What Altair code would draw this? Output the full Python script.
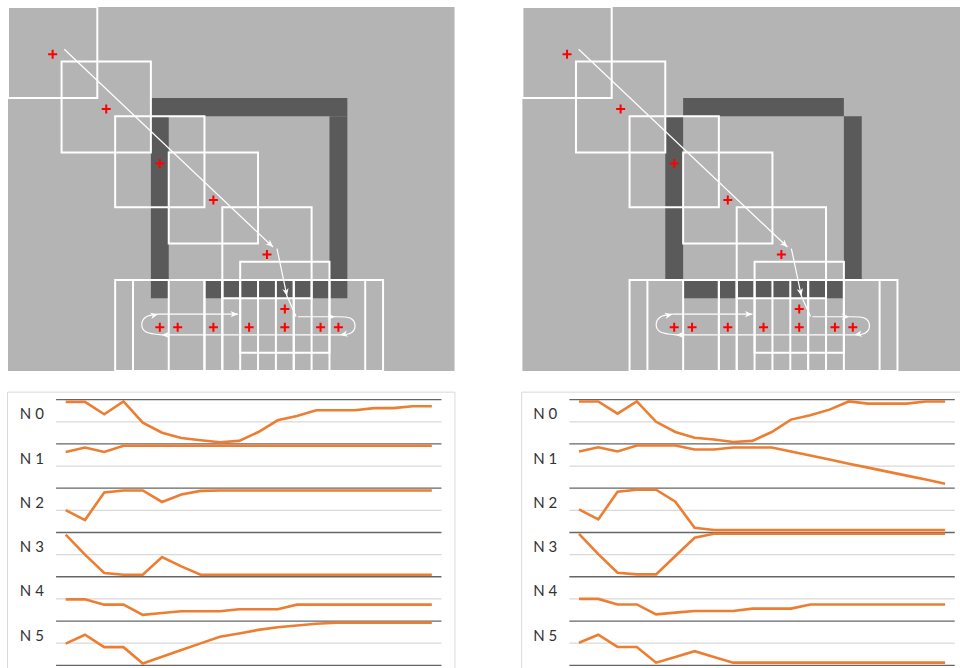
import math
import altair as alt
import pandas as pd

# ---------------- sliding-window diagrams (units: grid cells) ----------------
WIN = 5  # window side, in cells
win_x = [0, 3, 6, 9, 12, 13, 6, 7, 9, 11, 12, 13, 15, 16]
win_y = [0, 3, 6, 8, 11, 14, 15, 15, 15, 15, 15, 15, 15, 15]

cross_x = [2.5, 5.5, 8.5, 11.5, 14.5, 15.5, 8.5, 9.5, 11.5, 13.5, 15.5, 17.5, 18.5]
cross_y = [2.6, 5.6, 8.6, 10.6, 13.6, 16.6, 17.6, 17.6, 17.6, 17.6, 17.6, 17.6, 17.6]

# dark object blocks (x0, y0, x1, y1)
object_left = [(8, 5, 19, 6), (8, 6, 9, 16), (18, 6, 19, 16), (11, 15, 18, 16)]
object_right = [(9, 5, 18, 6), (8, 6, 9, 15), (18, 6, 19, 15), (9, 15, 18, 16)]

canvas_cells = (25, 20)

scan_paths = [
    [(3.15, 2.32), (14.84, 13.19)],
    [(15.06, 13.27), (15.62, 15.88)],
    [(15.62, 15.88), (16.13, 17.0)],
    [(16.24, 17.02), (18.31, 17.02)],
    [(18.31, 17.02), (19.15, 17.09), (19.43, 17.5), (19.2, 17.91), (18.59, 18.02)],
    [(18.59, 18.02), (8.6, 18.02)],
    [(8.6, 18.02), (7.73, 17.86), (7.49, 17.45), (7.73, 17.03), (8.4, 16.88)],
    [(8.4, 16.88), (12.88, 16.88)],
]
scan_arrow = [True, True, False, True, True, True, True, True]

# ---------------- per-node traces (0 = bottom of band, 1 = top) ----------------
labels = ["N 0", "N 1", "N 2", "N 3", "N 4", "N 5"]

left_traces = [
    [0.95, 0.95, 0.67, 0.96, 0.48, 0.255, 0.135, 0.083, 0.04, 0.07,
     0.27, 0.535, 0.63, 0.76, 0.76, 0.76, 0.81, 0.81, 0.85, 0.85],
    [0.82, 0.92, 0.82, 0.96, 0.96, 0.96, 0.96, 0.96, 0.96, 0.96,
     0.96, 0.96, 0.96, 0.96, 0.96, 0.96, 0.96, 0.96, 0.96, 0.96],
    [0.505, 0.28, 0.905, 0.95, 0.95, 0.69, 0.86, 0.94, 0.95, 0.95,
     0.95, 0.95, 0.95, 0.95, 0.95, 0.95, 0.95, 0.95, 0.95, 0.95],
    [0.95, 0.50, 0.085, 0.045, 0.045, 0.445, 0.235, 0.045, 0.045, 0.045,
     0.045, 0.045, 0.045, 0.045, 0.045, 0.045, 0.045, 0.045, 0.045, 0.045],
    [0.49, 0.49, 0.37, 0.37, 0.14, 0.18, 0.22, 0.22, 0.22, 0.265,
     0.265, 0.265, 0.37, 0.37, 0.37, 0.37, 0.37, 0.37, 0.37, 0.37],
    [0.49, 0.69, 0.41, 0.41, 0.04, 0.195, 0.345, 0.495, 0.645, 0.72,
     0.80, 0.86, 0.90, 0.94, 0.96, 0.96, 0.96, 0.96, 0.96, 0.96],
]

right_traces = [
    [0.96, 0.96, 0.685, 0.96, 0.50, 0.27, 0.14, 0.10, 0.045, 0.07,
     0.27, 0.55, 0.65, 0.775, 0.96, 0.91, 0.91, 0.91, 0.96, 0.96],
    [0.83, 0.925, 0.83, 0.965, 0.965, 0.965, 0.875, 0.875, 0.92, 0.92,
     0.92, 0.83, 0.74, 0.65, 0.555, 0.465, 0.375, 0.285, 0.195, 0.10],
    [0.52, 0.295, 0.92, 0.965, 0.965, 0.695, 0.105, 0.055, 0.055, 0.055,
     0.055, 0.055, 0.055, 0.055, 0.055, 0.055, 0.055, 0.055, 0.055, 0.055],
    [0.97, 0.51, 0.09, 0.055, 0.055, 0.47, 0.88, 0.97, 0.97, 0.97,
     0.97, 0.97, 0.97, 0.97, 0.97, 0.97, 0.97, 0.97, 0.97, 0.97],
    [0.50, 0.50, 0.375, 0.375, 0.15, 0.19, 0.225, 0.225, 0.225, 0.28,
     0.28, 0.28, 0.375, 0.375, 0.375, 0.375, 0.375, 0.375, 0.375, 0.375],
    [0.51, 0.69, 0.415, 0.415, 0.06, 0.19, 0.32, 0.19, 0.06, 0.06,
     0.06, 0.06, 0.06, 0.06, 0.06, 0.06, 0.06, 0.06, 0.06, 0.06],
]

# ---------------- layout ----------------
VIEW_W, TOP_H, BOT_H = 480, 382, 286
CELL_W, CELL_H = 17.86, 18.2
GRID_Y0 = 7
STEP, ROW_H, BASE_Y = 19.27, 44.27, 283.3

GRAY, DARK, ORANGE = "#b4b4b4", "#5a5a5a", "#ed7d31"
ARROW_SHAPE = "M0,0L-1,-0.42L-0.72,0L-1,0.42Z"
CROSS_SHAPE = "M-1,0L1,0M0,-1L0,1"


def diagram(blocks, grid_x0):
    xs = alt.Scale(domain=[-grid_x0 / CELL_W, (VIEW_W - grid_x0) / CELL_W], nice=False, zero=False)
    ys = alt.Scale(domain=[-GRID_Y0 / CELL_H, (TOP_H - GRID_Y0) / CELL_H],
                   nice=False, zero=False, reverse=True)

    def X(f):
        return alt.X(f, scale=xs, axis=None)

    def Y(f):
        return alt.Y(f, scale=ys, axis=None)

    bg = pd.DataFrame([{"x0": 0, "y0": 0, "x1": canvas_cells[0], "y1": canvas_cells[1]}])
    obj = pd.DataFrame([{"x0": a, "y0": b, "x1": c, "y1": d} for a, b, c, d in blocks])
    wins = pd.DataFrame({"x0": win_x, "y0": win_y})
    crosses = pd.DataFrame({"x": cross_x, "y": cross_y})

    path_rows, head_rows = [], []
    for p, (pts, head) in enumerate(zip(scan_paths, scan_arrow)):
        for s, (gx, gy) in enumerate(pts):
            path_rows.append({"path": p, "seq": s, "x": gx, "y": gy})
        if head:
            (ax, ay), (bx, by) = pts[-2], pts[-1]
            ang = math.degrees(math.atan2((by - ay) * CELL_H, (bx - ax) * CELL_W)) % 360
            head_rows.append({"x": bx, "y": by, "angle": ang})
    paths = pd.DataFrame(path_rows)
    heads = pd.DataFrame(head_rows)

    rect_enc = dict(x=X("x0:Q"), x2="x1:Q", y=Y("y0:Q"), y2="y1:Q")
    layers = [
        alt.Chart(bg).mark_rect(color=GRAY, clip=True).encode(**rect_enc),
        alt.Chart(obj).mark_rect(color=DARK).encode(**rect_enc),
        alt.Chart(wins).transform_calculate(
            x1=f"datum.x0 + {WIN}", y1=f"datum.y0 + {WIN}"
        ).mark_rect(fillOpacity=0, stroke="white", strokeWidth=2).encode(**rect_enc),
        alt.Chart(paths).mark_line(color="white", strokeWidth=1.2, interpolate="cardinal").encode(
            x=X("x:Q"), y=Y("y:Q"), detail="path:N", order="seq:Q"),
        alt.Chart(heads).mark_point(shape=ARROW_SHAPE, filled=True, color="white",
                                    size=225, opacity=1).encode(
            x=X("x:Q"), y=Y("y:Q"), angle=alt.Angle("angle:Q", scale=None)),
        alt.Chart(crosses).mark_point(shape=CROSS_SHAPE, filled=False, color="#ff0000",
                                      strokeWidth=2, size=81, opacity=1).encode(
            x=X("x:Q"), y=Y("y:Q")),
    ]
    return alt.layer(*layers).properties(width=VIEW_W, height=TOP_H)


def trend_panel(traces, first_x, box_left, box_right):
    xs = alt.Scale(domain=[-first_x / STEP, (VIEW_W - first_x) / STEP], nice=False, zero=False)
    ys = alt.Scale(domain=[(BASE_Y - BOT_H) / ROW_H, BASE_Y / ROW_H], nice=False, zero=False)
    n = len(traces)

    df = pd.DataFrame([{"row": k, "i": i, "value": v}
                       for k, vals in enumerate(traces) for i, v in enumerate(vals)])
    grid = pd.DataFrame(
        [{"level": k, "col": "#666666"} for k in range(n + 1)]
        + [{"level": k + 0.5, "col": "#d9d9d9"} for k in range(n)]
    )
    lab = pd.DataFrame({"row": list(range(n)), "text": labels})
    npts = len(traces[0])

    box = alt.Chart(pd.DataFrame([{"a": 0}])).mark_rect(
        fillOpacity=0, stroke="#d9d9d9", strokeWidth=1, clip=True).encode(
        x=alt.XDatum(box_left, scale=xs, axis=None), x2=alt.X2Datum(box_right),
        y=alt.YDatum(6.17, scale=ys, axis=None), y2=alt.Y2Datum(-1))

    rules = alt.Chart(grid).mark_rule(strokeWidth=1.3).encode(
        y=alt.Y("level:Q", scale=ys, axis=None),
        x=alt.XDatum(-0.5, scale=xs, axis=None), x2=alt.X2Datum(npts - 0.5),
        color=alt.Color("col:N", scale=None))

    lines = alt.Chart(df).transform_calculate(
        level=f"datum.value + {n - 1} - datum.row"
    ).mark_line(color=ORANGE, strokeWidth=2.6).encode(
        x=alt.X("i:Q", scale=xs, axis=None),
        y=alt.Y("level:Q", scale=ys, axis=None),
        detail="row:N", order="i:Q")

    text = alt.Chart(lab).transform_calculate(
        level=f"{n} - datum.row - 0.33"
    ).mark_text(align="left", baseline="middle", font="Lato", fontSize=15,
                color="#333333").encode(
        x=alt.XDatum(-2.38, scale=xs, axis=None),
        y=alt.Y("level:Q", scale=ys, axis=None),
        text="text:N")

    return alt.layer(box, rules, lines, text).properties(width=VIEW_W, height=BOT_H)


chart = alt.concat(
    diagram(object_left, 8),
    diagram(object_right, 42.4),
    trend_panel(left_traces, 65.7, -3.02, 20.2),
    trend_panel(right_traces, 99.0, -2.975, 22),
    columns=2, spacing=0, bounds="flush",
).properties(padding=0, background="white").configure_view(stroke=None)

chart.save("out.html", embed_options={"renderer": "svg", "actions": False})
